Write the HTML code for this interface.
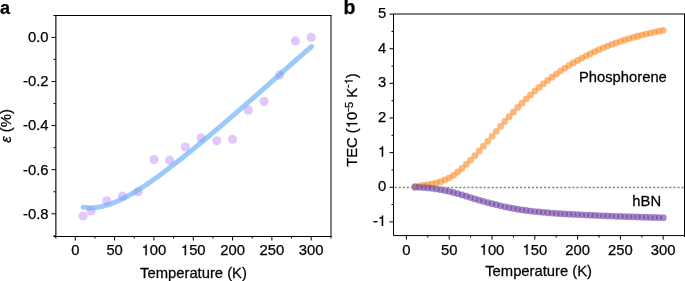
<!DOCTYPE html>
<html><head><meta charset="utf-8"><style>
html,body{margin:0;padding:0;background:#fff;}
body{width:685px;height:281px;position:relative;overflow:hidden;font-family:"Liberation Sans", sans-serif;}
text{stroke:#000;stroke-width:0.25px;}
.one{fill:none;stroke:none;}
</style></head><body>
<svg width="685" height="281" viewBox="0 0 685 281" style="position:absolute;left:0;top:0;will-change:transform"><g font-family='"Liberation Sans", sans-serif' fill="#000"><text x="0.1" y="13.9" font-size="18" font-weight="bold">a</text><text x="343.6" y="14.1" font-size="19.5" font-weight="bold">b</text><circle cx="83.16" cy="216.01" r="4.6" fill="#e1c8fc"/><circle cx="91.03" cy="210.93" r="4.6" fill="#e1c8fc"/><circle cx="106.75" cy="200.79" r="4.6" fill="#e1c8fc"/><circle cx="122.48" cy="196.16" r="4.6" fill="#e1c8fc"/><circle cx="138.21" cy="191.75" r="4.6" fill="#e1c8fc"/><circle cx="153.93" cy="159.56" r="4.6" fill="#e1c8fc"/><circle cx="169.66" cy="160.22" r="4.6" fill="#e1c8fc"/><circle cx="185.39" cy="146.99" r="4.6" fill="#e1c8fc"/><circle cx="201.11" cy="137.95" r="4.6" fill="#e1c8fc"/><circle cx="216.84" cy="140.81" r="4.6" fill="#e1c8fc"/><circle cx="232.57" cy="139.27" r="4.6" fill="#e1c8fc"/><circle cx="248.29" cy="110.16" r="4.6" fill="#e1c8fc"/><circle cx="264.02" cy="101.34" r="4.6" fill="#e1c8fc"/><circle cx="279.75" cy="74.88" r="4.6" fill="#e1c8fc"/><circle cx="295.47" cy="40.93" r="4.6" fill="#e1c8fc"/><circle cx="311.20" cy="37.40" r="4.6" fill="#e1c8fc"/><path d="M83.30,207.26 L86.19,207.61 L89.08,207.76 L91.97,207.74 L94.85,207.54 L97.74,207.19 L100.63,206.68 L103.52,206.03 L106.41,205.25 L109.30,204.34 L112.19,203.32 L115.07,202.19 L117.96,200.96 L120.85,199.63 L123.74,198.21 L126.63,196.71 L129.52,195.13 L132.41,193.48 L135.29,191.76 L138.18,189.98 L141.07,188.15 L143.96,186.26 L146.85,184.33 L149.74,182.35 L152.63,180.32 L155.52,178.26 L158.40,176.17 L161.29,174.04 L164.18,171.89 L167.07,169.70 L169.96,167.50 L172.85,165.27 L175.74,163.01 L178.62,160.74 L181.51,158.46 L184.40,156.15 L187.29,153.83 L190.18,151.50 L193.07,149.15 L195.96,146.79 L198.84,144.42 L201.73,142.04 L204.62,139.64 L207.51,137.24 L210.40,134.83 L213.29,132.41 L216.18,129.98 L219.06,127.54 L221.95,125.09 L224.84,122.63 L227.73,120.16 L230.62,117.69 L233.51,115.21 L236.40,112.71 L239.28,110.21 L242.17,107.71 L245.06,105.19 L247.95,102.66 L250.84,100.13 L253.73,97.59 L256.62,95.04 L259.51,92.49 L262.39,89.93 L265.28,87.37 L268.17,84.80 L271.06,82.22 L273.95,79.65 L276.84,77.07 L279.73,74.49 L282.61,71.91 L285.50,69.33 L288.39,66.76 L291.28,64.19 L294.17,61.63 L297.06,59.08 L299.95,56.54 L302.83,54.01 L305.72,51.51 L308.61,49.02 L311.50,46.56" fill="none" stroke="#5aa8f6" stroke-opacity="0.6" stroke-width="5" stroke-linecap="round"/><path d="M53.5,15.5 H331.5" stroke="#000" stroke-width="1" fill="none"/><path d="M55.85,15.5 V238.5" stroke="#1a1a1a" stroke-width="1.25" fill="none"/><path d="M331.0,15.5 V238.5" stroke="#000" stroke-width="1" fill="none"/><path d="M53.5,236.5 H331.5" stroke="#000" stroke-width="1" fill="none"/><path d="M75.30,236.5 V240.5" stroke="#000" stroke-width="1"/><text x="75.30" y="255.2" font-size="14.8" text-anchor="middle">0</text><path d="M94.96,236.5 V238.5" stroke="#000" stroke-width="1"/><path d="M114.62,236.5 V240.5" stroke="#000" stroke-width="1"/><text x="114.62" y="255.2" font-size="14.8" text-anchor="middle">50</text><path d="M134.27,236.5 V238.5" stroke="#000" stroke-width="1"/><path d="M153.93,236.5 V240.5" stroke="#000" stroke-width="1"/><text x="153.93" y="255.2" font-size="14.8" text-anchor="middle"><tspan class="one">1</tspan>00</text><path d="M173.59,236.5 V238.5" stroke="#000" stroke-width="1"/><path d="M193.25,236.5 V240.5" stroke="#000" stroke-width="1"/><text x="193.25" y="255.2" font-size="14.8" text-anchor="middle"><tspan class="one">1</tspan>50</text><path d="M212.91,236.5 V238.5" stroke="#000" stroke-width="1"/><path d="M232.57,236.5 V240.5" stroke="#000" stroke-width="1"/><text x="232.57" y="255.2" font-size="14.8" text-anchor="middle">200</text><path d="M252.22,236.5 V238.5" stroke="#000" stroke-width="1"/><path d="M271.88,236.5 V240.5" stroke="#000" stroke-width="1"/><text x="271.88" y="255.2" font-size="14.8" text-anchor="middle">250</text><path d="M291.54,236.5 V238.5" stroke="#000" stroke-width="1"/><path d="M311.20,236.5 V240.5" stroke="#000" stroke-width="1"/><text x="311.20" y="255.2" font-size="14.8" text-anchor="middle">300</text><path d="M55.5,37.40 H51.5" stroke="#000" stroke-width="1"/><text x="48.50" y="42.20" font-size="14.8" text-anchor="end">0.0</text><path d="M55.5,59.45 H53.5" stroke="#000" stroke-width="1"/><path d="M55.5,81.50 H51.5" stroke="#000" stroke-width="1"/><text x="48.50" y="86.30" font-size="14.8" text-anchor="end">-0.2</text><path d="M55.5,103.55 H53.5" stroke="#000" stroke-width="1"/><path d="M55.5,125.60 H51.5" stroke="#000" stroke-width="1"/><text x="48.50" y="130.40" font-size="14.8" text-anchor="end">-0.4</text><path d="M55.5,147.65 H53.5" stroke="#000" stroke-width="1"/><path d="M55.5,169.70 H51.5" stroke="#000" stroke-width="1"/><text x="48.50" y="174.50" font-size="14.8" text-anchor="end">-0.6</text><path d="M55.5,191.75 H53.5" stroke="#000" stroke-width="1"/><path d="M55.5,213.80 H51.5" stroke="#000" stroke-width="1"/><text x="48.50" y="218.60" font-size="14.8" text-anchor="end">-0.8</text><path d="M55.5,235.85 H53.5" stroke="#000" stroke-width="1"/><text transform="translate(193.5,277.9) scale(1,1.04)" font-size="14.8" text-anchor="middle">Temperature (K)</text><text transform="translate(11.2,126) rotate(-90) scale(1,1.04)" font-size="14.8" text-anchor="middle"><tspan font-style="italic">ε</tspan> (%)</text><circle cx="414.96" cy="186.38" r="3.4" fill="#fa8a26" fill-opacity="0.6"/><circle cx="419.24" cy="185.79" r="3.4" fill="#fa8a26" fill-opacity="0.6"/><circle cx="423.52" cy="185.23" r="3.4" fill="#fa8a26" fill-opacity="0.6"/><circle cx="427.80" cy="184.62" r="3.4" fill="#fa8a26" fill-opacity="0.6"/><circle cx="432.08" cy="183.88" r="3.4" fill="#fa8a26" fill-opacity="0.6"/><circle cx="436.36" cy="182.91" r="3.4" fill="#fa8a26" fill-opacity="0.6"/><circle cx="440.64" cy="181.64" r="3.4" fill="#fa8a26" fill-opacity="0.6"/><circle cx="444.92" cy="179.97" r="3.4" fill="#fa8a26" fill-opacity="0.6"/><circle cx="449.20" cy="177.83" r="3.4" fill="#fa8a26" fill-opacity="0.6"/><circle cx="453.48" cy="175.14" r="3.4" fill="#fa8a26" fill-opacity="0.6"/><circle cx="457.76" cy="171.96" r="3.4" fill="#fa8a26" fill-opacity="0.6"/><circle cx="462.04" cy="168.35" r="3.4" fill="#fa8a26" fill-opacity="0.6"/><circle cx="466.32" cy="164.39" r="3.4" fill="#fa8a26" fill-opacity="0.6"/><circle cx="470.60" cy="160.13" r="3.4" fill="#fa8a26" fill-opacity="0.6"/><circle cx="474.88" cy="155.66" r="3.4" fill="#fa8a26" fill-opacity="0.6"/><circle cx="479.16" cy="151.00" r="3.4" fill="#fa8a26" fill-opacity="0.6"/><circle cx="483.44" cy="146.20" r="3.4" fill="#fa8a26" fill-opacity="0.6"/><circle cx="487.72" cy="141.31" r="3.4" fill="#fa8a26" fill-opacity="0.6"/><circle cx="492.00" cy="136.35" r="3.4" fill="#fa8a26" fill-opacity="0.6"/><circle cx="496.28" cy="131.37" r="3.4" fill="#fa8a26" fill-opacity="0.6"/><circle cx="500.56" cy="126.41" r="3.4" fill="#fa8a26" fill-opacity="0.6"/><circle cx="504.84" cy="121.50" r="3.4" fill="#fa8a26" fill-opacity="0.6"/><circle cx="509.12" cy="116.68" r="3.4" fill="#fa8a26" fill-opacity="0.6"/><circle cx="513.40" cy="112.00" r="3.4" fill="#fa8a26" fill-opacity="0.6"/><circle cx="517.68" cy="107.49" r="3.4" fill="#fa8a26" fill-opacity="0.6"/><circle cx="521.96" cy="103.15" r="3.4" fill="#fa8a26" fill-opacity="0.6"/><circle cx="526.24" cy="98.97" r="3.4" fill="#fa8a26" fill-opacity="0.6"/><circle cx="530.52" cy="94.96" r="3.4" fill="#fa8a26" fill-opacity="0.6"/><circle cx="534.80" cy="91.10" r="3.4" fill="#fa8a26" fill-opacity="0.6"/><circle cx="539.08" cy="87.40" r="3.4" fill="#fa8a26" fill-opacity="0.6"/><circle cx="543.36" cy="83.85" r="3.4" fill="#fa8a26" fill-opacity="0.6"/><circle cx="547.64" cy="80.44" r="3.4" fill="#fa8a26" fill-opacity="0.6"/><circle cx="551.92" cy="77.18" r="3.4" fill="#fa8a26" fill-opacity="0.6"/><circle cx="556.20" cy="74.06" r="3.4" fill="#fa8a26" fill-opacity="0.6"/><circle cx="560.48" cy="71.07" r="3.4" fill="#fa8a26" fill-opacity="0.6"/><circle cx="564.76" cy="68.22" r="3.4" fill="#fa8a26" fill-opacity="0.6"/><circle cx="569.04" cy="65.49" r="3.4" fill="#fa8a26" fill-opacity="0.6"/><circle cx="573.32" cy="62.89" r="3.4" fill="#fa8a26" fill-opacity="0.6"/><circle cx="577.60" cy="60.41" r="3.4" fill="#fa8a26" fill-opacity="0.6"/><circle cx="581.88" cy="58.04" r="3.4" fill="#fa8a26" fill-opacity="0.6"/><circle cx="586.16" cy="55.79" r="3.4" fill="#fa8a26" fill-opacity="0.6"/><circle cx="590.44" cy="53.65" r="3.4" fill="#fa8a26" fill-opacity="0.6"/><circle cx="594.72" cy="51.62" r="3.4" fill="#fa8a26" fill-opacity="0.6"/><circle cx="599.00" cy="49.68" r="3.4" fill="#fa8a26" fill-opacity="0.6"/><circle cx="603.28" cy="47.85" r="3.4" fill="#fa8a26" fill-opacity="0.6"/><circle cx="607.56" cy="46.10" r="3.4" fill="#fa8a26" fill-opacity="0.6"/><circle cx="611.84" cy="44.45" r="3.4" fill="#fa8a26" fill-opacity="0.6"/><circle cx="616.12" cy="42.89" r="3.4" fill="#fa8a26" fill-opacity="0.6"/><circle cx="620.40" cy="41.41" r="3.4" fill="#fa8a26" fill-opacity="0.6"/><circle cx="624.68" cy="40.01" r="3.4" fill="#fa8a26" fill-opacity="0.6"/><circle cx="628.96" cy="38.68" r="3.4" fill="#fa8a26" fill-opacity="0.6"/><circle cx="633.24" cy="37.43" r="3.4" fill="#fa8a26" fill-opacity="0.6"/><circle cx="637.52" cy="36.24" r="3.4" fill="#fa8a26" fill-opacity="0.6"/><circle cx="641.80" cy="35.12" r="3.4" fill="#fa8a26" fill-opacity="0.6"/><circle cx="646.08" cy="34.05" r="3.4" fill="#fa8a26" fill-opacity="0.6"/><circle cx="650.36" cy="33.05" r="3.4" fill="#fa8a26" fill-opacity="0.6"/><circle cx="654.64" cy="32.10" r="3.4" fill="#fa8a26" fill-opacity="0.6"/><circle cx="658.92" cy="31.19" r="3.4" fill="#fa8a26" fill-opacity="0.6"/><circle cx="663.20" cy="30.34" r="3.4" fill="#fa8a26" fill-opacity="0.6"/><circle cx="414.96" cy="187.25" r="3.4" fill="#7448a8" fill-opacity="0.65"/><circle cx="419.24" cy="187.34" r="3.4" fill="#7448a8" fill-opacity="0.65"/><circle cx="423.52" cy="187.57" r="3.4" fill="#7448a8" fill-opacity="0.65"/><circle cx="427.80" cy="187.90" r="3.4" fill="#7448a8" fill-opacity="0.65"/><circle cx="432.08" cy="188.29" r="3.4" fill="#7448a8" fill-opacity="0.65"/><circle cx="436.36" cy="188.89" r="3.4" fill="#7448a8" fill-opacity="0.65"/><circle cx="440.64" cy="189.67" r="3.4" fill="#7448a8" fill-opacity="0.65"/><circle cx="444.92" cy="190.49" r="3.4" fill="#7448a8" fill-opacity="0.65"/><circle cx="449.20" cy="191.41" r="3.4" fill="#7448a8" fill-opacity="0.65"/><circle cx="453.48" cy="192.49" r="3.4" fill="#7448a8" fill-opacity="0.65"/><circle cx="457.76" cy="193.69" r="3.4" fill="#7448a8" fill-opacity="0.65"/><circle cx="462.04" cy="194.93" r="3.4" fill="#7448a8" fill-opacity="0.65"/><circle cx="466.32" cy="196.26" r="3.4" fill="#7448a8" fill-opacity="0.65"/><circle cx="470.60" cy="197.62" r="3.4" fill="#7448a8" fill-opacity="0.65"/><circle cx="474.88" cy="198.96" r="3.4" fill="#7448a8" fill-opacity="0.65"/><circle cx="479.16" cy="200.21" r="3.4" fill="#7448a8" fill-opacity="0.65"/><circle cx="483.44" cy="201.42" r="3.4" fill="#7448a8" fill-opacity="0.65"/><circle cx="487.72" cy="202.59" r="3.4" fill="#7448a8" fill-opacity="0.65"/><circle cx="492.00" cy="203.71" r="3.4" fill="#7448a8" fill-opacity="0.65"/><circle cx="496.28" cy="204.77" r="3.4" fill="#7448a8" fill-opacity="0.65"/><circle cx="500.56" cy="205.80" r="3.4" fill="#7448a8" fill-opacity="0.65"/><circle cx="504.84" cy="206.78" r="3.4" fill="#7448a8" fill-opacity="0.65"/><circle cx="509.12" cy="207.70" r="3.4" fill="#7448a8" fill-opacity="0.65"/><circle cx="513.40" cy="208.51" r="3.4" fill="#7448a8" fill-opacity="0.65"/><circle cx="517.68" cy="209.24" r="3.4" fill="#7448a8" fill-opacity="0.65"/><circle cx="521.96" cy="209.90" r="3.4" fill="#7448a8" fill-opacity="0.65"/><circle cx="526.24" cy="210.50" r="3.4" fill="#7448a8" fill-opacity="0.65"/><circle cx="530.52" cy="211.04" r="3.4" fill="#7448a8" fill-opacity="0.65"/><circle cx="534.80" cy="211.53" r="3.4" fill="#7448a8" fill-opacity="0.65"/><circle cx="539.08" cy="211.97" r="3.4" fill="#7448a8" fill-opacity="0.65"/><circle cx="543.36" cy="212.37" r="3.4" fill="#7448a8" fill-opacity="0.65"/><circle cx="547.64" cy="212.74" r="3.4" fill="#7448a8" fill-opacity="0.65"/><circle cx="551.92" cy="213.07" r="3.4" fill="#7448a8" fill-opacity="0.65"/><circle cx="556.20" cy="213.38" r="3.4" fill="#7448a8" fill-opacity="0.65"/><circle cx="560.48" cy="213.66" r="3.4" fill="#7448a8" fill-opacity="0.65"/><circle cx="564.76" cy="213.92" r="3.4" fill="#7448a8" fill-opacity="0.65"/><circle cx="569.04" cy="214.16" r="3.4" fill="#7448a8" fill-opacity="0.65"/><circle cx="573.32" cy="214.39" r="3.4" fill="#7448a8" fill-opacity="0.65"/><circle cx="577.60" cy="214.61" r="3.4" fill="#7448a8" fill-opacity="0.65"/><circle cx="581.88" cy="214.82" r="3.4" fill="#7448a8" fill-opacity="0.65"/><circle cx="586.16" cy="215.03" r="3.4" fill="#7448a8" fill-opacity="0.65"/><circle cx="590.44" cy="215.22" r="3.4" fill="#7448a8" fill-opacity="0.65"/><circle cx="594.72" cy="215.42" r="3.4" fill="#7448a8" fill-opacity="0.65"/><circle cx="599.00" cy="215.60" r="3.4" fill="#7448a8" fill-opacity="0.65"/><circle cx="603.28" cy="215.78" r="3.4" fill="#7448a8" fill-opacity="0.65"/><circle cx="607.56" cy="215.95" r="3.4" fill="#7448a8" fill-opacity="0.65"/><circle cx="611.84" cy="216.12" r="3.4" fill="#7448a8" fill-opacity="0.65"/><circle cx="616.12" cy="216.28" r="3.4" fill="#7448a8" fill-opacity="0.65"/><circle cx="620.40" cy="216.43" r="3.4" fill="#7448a8" fill-opacity="0.65"/><circle cx="624.68" cy="216.58" r="3.4" fill="#7448a8" fill-opacity="0.65"/><circle cx="628.96" cy="216.73" r="3.4" fill="#7448a8" fill-opacity="0.65"/><circle cx="633.24" cy="216.87" r="3.4" fill="#7448a8" fill-opacity="0.65"/><circle cx="637.52" cy="217.01" r="3.4" fill="#7448a8" fill-opacity="0.65"/><circle cx="641.80" cy="217.14" r="3.4" fill="#7448a8" fill-opacity="0.65"/><circle cx="646.08" cy="217.27" r="3.4" fill="#7448a8" fill-opacity="0.65"/><circle cx="650.36" cy="217.39" r="3.4" fill="#7448a8" fill-opacity="0.65"/><circle cx="654.64" cy="217.51" r="3.4" fill="#7448a8" fill-opacity="0.65"/><circle cx="658.92" cy="217.62" r="3.4" fill="#7448a8" fill-opacity="0.65"/><circle cx="663.20" cy="217.72" r="3.4" fill="#7448a8" fill-opacity="0.65"/><path d="M394.6,187.5 H684.5" stroke="#888" stroke-width="1.6" stroke-dasharray="2.2,1.84" fill="none"/><path d="M393.5,14.0 H684.5" stroke="#000" stroke-width="1" fill="none"/><path d="M393.5,14.0 V235.6" stroke="#000" stroke-width="1" fill="none"/><path d="M684.5,13.5 V237.0" stroke="#000" stroke-width="1" fill="none"/><path d="M393.5,235.6 H684.5" stroke="#000" stroke-width="1" fill="none"/><path d="M406.40,235.6 V239.6" stroke="#000" stroke-width="1"/><text x="406.40" y="254.8" font-size="14.8" text-anchor="middle">0</text><path d="M427.80,235.6 V237.6" stroke="#000" stroke-width="1"/><path d="M449.20,235.6 V239.6" stroke="#000" stroke-width="1"/><text x="449.20" y="254.8" font-size="14.8" text-anchor="middle">50</text><path d="M470.60,235.6 V237.6" stroke="#000" stroke-width="1"/><path d="M492.00,235.6 V239.6" stroke="#000" stroke-width="1"/><text x="492.00" y="254.8" font-size="14.8" text-anchor="middle"><tspan class="one">1</tspan>00</text><path d="M513.40,235.6 V237.6" stroke="#000" stroke-width="1"/><path d="M534.80,235.6 V239.6" stroke="#000" stroke-width="1"/><text x="534.80" y="254.8" font-size="14.8" text-anchor="middle"><tspan class="one">1</tspan>50</text><path d="M556.20,235.6 V237.6" stroke="#000" stroke-width="1"/><path d="M577.60,235.6 V239.6" stroke="#000" stroke-width="1"/><text x="577.60" y="254.8" font-size="14.8" text-anchor="middle">200</text><path d="M599.00,235.6 V237.6" stroke="#000" stroke-width="1"/><path d="M620.40,235.6 V239.6" stroke="#000" stroke-width="1"/><text x="620.40" y="254.8" font-size="14.8" text-anchor="middle">250</text><path d="M641.80,235.6 V237.6" stroke="#000" stroke-width="1"/><path d="M663.20,235.6 V239.6" stroke="#000" stroke-width="1"/><text x="663.20" y="254.8" font-size="14.8" text-anchor="middle">300</text><path d="M393.5,221.88 H389.5" stroke="#000" stroke-width="1"/><text x="386.20" y="225.88" font-size="14.8" text-anchor="end">-<tspan class="one">1</tspan></text><path d="M393.5,204.56 H391.5" stroke="#000" stroke-width="1"/><path d="M393.5,187.25 H389.5" stroke="#000" stroke-width="1"/><text x="386.20" y="191.25" font-size="14.8" text-anchor="end">0</text><path d="M393.5,169.94 H391.5" stroke="#000" stroke-width="1"/><path d="M393.5,152.62 H389.5" stroke="#000" stroke-width="1"/><text x="386.20" y="156.62" font-size="14.8" text-anchor="end"><tspan class="one">1</tspan></text><path d="M393.5,135.31 H391.5" stroke="#000" stroke-width="1"/><path d="M393.5,117.99 H389.5" stroke="#000" stroke-width="1"/><text x="386.20" y="121.99" font-size="14.8" text-anchor="end">2</text><path d="M393.5,100.67 H391.5" stroke="#000" stroke-width="1"/><path d="M393.5,83.36 H389.5" stroke="#000" stroke-width="1"/><text x="386.20" y="87.36" font-size="14.8" text-anchor="end">3</text><path d="M393.5,66.04 H391.5" stroke="#000" stroke-width="1"/><path d="M393.5,48.73 H389.5" stroke="#000" stroke-width="1"/><text x="386.20" y="52.73" font-size="14.8" text-anchor="end">4</text><path d="M393.5,31.41 H391.5" stroke="#000" stroke-width="1"/><path d="M393.5,14.10 H389.5" stroke="#000" stroke-width="1"/><text x="386.20" y="18.10" font-size="14.8" text-anchor="end">5</text><text transform="translate(538.6,276.4) scale(1,1.04)" font-size="14.8" text-anchor="middle">Temperature (K)</text><text transform="translate(357.3,166.8) rotate(-90) scale(1,1.04)" font-size="14.8">TEC (<tspan class="one">1</tspan>0<tspan font-size="11" dy="-5.6">-</tspan><tspan font-size="11" dy="1.2">5</tspan><tspan dy="4.4"> K</tspan><tspan font-size="11" dy="-5.6">-</tspan><tspan font-size="11" dy="1.2"><tspan class="one">1</tspan></tspan><tspan dy="4.4">)</tspan></text><text transform="translate(578.9,81.6) scale(1,1.04)" font-size="14.8">Phosphorene</text><text transform="translate(632.3,205.9) scale(1,1.04)" font-size="14.8">hBN</text><path transform="matrix(0.01480,0.00000,0.00000,-0.01480,141.578,255.200)" d="M259 505H102V568Q204 581 235.0 604.0Q266 627 289 709H347V0H259Z" fill="#000" stroke="#000" stroke-width="16.9"/><path transform="matrix(0.01480,0.00000,0.00000,-0.01480,180.898,255.200)" d="M259 505H102V568Q204 581 235.0 604.0Q266 627 289 709H347V0H259Z" fill="#000" stroke="#000" stroke-width="16.9"/><path transform="matrix(0.01480,0.00000,0.00000,-0.01480,479.648,254.800)" d="M259 505H102V568Q204 581 235.0 604.0Q266 627 289 709H347V0H259Z" fill="#000" stroke="#000" stroke-width="16.9"/><path transform="matrix(0.01480,0.00000,0.00000,-0.01480,522.448,254.800)" d="M259 505H102V568Q204 581 235.0 604.0Q266 627 289 709H347V0H259Z" fill="#000" stroke="#000" stroke-width="16.9"/><path transform="matrix(0.01480,0.00000,0.00000,-0.01480,377.966,225.880)" d="M259 505H102V568Q204 581 235.0 604.0Q266 627 289 709H347V0H259Z" fill="#000" stroke="#000" stroke-width="16.9"/><path transform="matrix(0.01480,0.00000,0.00000,-0.01480,377.966,156.620)" d="M259 505H102V568Q204 581 235.0 604.0Q266 627 289 709H347V0H259Z" fill="#000" stroke="#000" stroke-width="16.9"/><path transform="matrix(0.00000,-0.01480,-0.01539,0.00000,357.300,128.204)" d="M259 505H102V568Q204 581 235.0 604.0Q266 627 289 709H347V0H259Z" fill="#000" stroke="#000" stroke-width="16.9"/><path transform="matrix(0.00000,-0.01100,-0.01144,0.00000,352.724,84.310)" d="M259 505H102V568Q204 581 235.0 604.0Q266 627 289 709H347V0H259Z" fill="#000" stroke="#000" stroke-width="22.7"/></g></svg>
</body></html>
